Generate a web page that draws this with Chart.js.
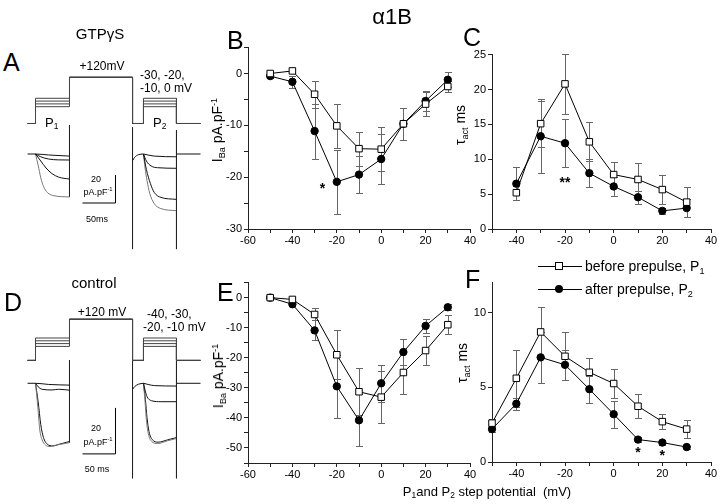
<!DOCTYPE html>
<html>
<head>
<meta charset="utf-8">
<script src="https://cdn.jsdelivr.net/npm/chart.js@4.4.0/dist/chart.umd.min.js"></script>
<style>
body { margin: 0; background: #fff; }
#fig { position: relative; width: 720px; height: 504px; overflow: hidden; font-family: "Liberation Sans", Arial, sans-serif; color: #000; }
canvas { position: absolute; }
.t { position: absolute; white-space: nowrap; line-height: 1; }
.c { transform: translate(-50%, -50%); }
.m { transform: translateY(-50%); }
.r { transform: translate(-50%, -50%) rotate(-90deg); font-size: 14px; }
.L { font-size: 25px; }
.s9 { font-size: 9px; }
.s12 { font-size: 12px; }
sub { font-size: 0.65em; vertical-align: -0.35em; line-height: 0; }
sup { font-size: 0.65em; vertical-align: 0.6em; line-height: 0; }
.ln { position: absolute; height: 1px; background: #000; }
.sq { position: absolute; width: 6px; height: 6px; border: 1px solid #000; background: #fff; }
.dot { position: absolute; width: 8px; height: 8px; border-radius: 50%; background: #000; }
</style>
</head>
<body>
<div id="fig">
  <canvas id="trA"></canvas>
  <canvas id="trD"></canvas>
  <canvas id="chB"></canvas>
  <canvas id="chC"></canvas>
  <canvas id="chE"></canvas>
  <canvas id="chF"></canvas>

  <div class="t c" style="left:392px;top:17px;font-size:22px;">α1B</div>

  <div class="t m L" style="left:3px;top:62px;">A</div>
  <div class="t m L" style="left:227px;top:40px;">B</div>
  <div class="t m L" style="left:463px;top:37px;">C</div>
  <div class="t m L" style="left:4px;top:302px;">D</div>
  <div class="t m L" style="left:217px;top:292px;">E</div>
  <div class="t m L" style="left:465px;top:279px;">F</div>

  <div class="t c" style="left:100px;top:33px;font-size:15px;">GTPγS</div>
  <div class="t c s12" style="left:102px;top:66px;">+120mV</div>
  <div class="t m s12" style="left:140px;top:75px;">-30, -20,</div>
  <div class="t m s12" style="left:140px;top:88px;">-10, 0 mV</div>
  <div class="t m" style="left:45px;top:122px;font-size:13px;">P<sub>1</sub></div>
  <div class="t m" style="left:153px;top:122px;font-size:13px;">P<sub>2</sub></div>
  <div class="t c s9" style="left:96px;top:179px;">20</div>
  <div class="t c s9" style="left:98px;top:192px;">pA.pF<sup>-1</sup></div>
  <div class="t c s9" style="left:97px;top:219px;">50ms</div>

  <div class="t c" style="left:94px;top:282px;font-size:15px;">control</div>
  <div class="t c s12" style="left:102px;top:312px;">+120 mV</div>
  <div class="t m s12" style="left:147px;top:314px;">-40, -30,</div>
  <div class="t m s12" style="left:143px;top:327px;">-20, -10 mV</div>
  <div class="t c s9" style="left:96px;top:428px;">20</div>
  <div class="t c s9" style="left:98px;top:442px;">pA.pF<sup>-1</sup></div>
  <div class="t c s9" style="left:97px;top:469px;">50 ms</div>

  <div class="t r" style="left:217px;top:130px;">I<sub>Ba</sub> pA.pF<sup>-1</sup></div>
  <div class="t r" style="left:218px;top:376px;">I<sub>Ba</sub> pA.pF<sup>-1</sup></div>
  <div class="t r" style="left:460px;top:125px;">τ<sub>act</sub> ms</div>
  <div class="t r" style="left:462px;top:363px;">τ<sub>act</sub> ms</div>

  <div class="t c" style="left:487px;top:491px;font-size:13px;">P<sub>1</sub>and P<sub>2</sub> step potential&nbsp; (mV)</div>

  <div class="ln" style="left:538px;top:266px;width:44px;"></div>
  <div class="sq" style="left:555px;top:262px;"></div>
  <div class="t m" style="left:585px;top:266px;font-size:14px;">before prepulse, P<sub>1</sub></div>
  <div class="ln" style="left:538px;top:289px;width:44px;"></div>
  <div class="dot" style="left:555px;top:285px;"></div>
  <div class="t m" style="left:585px;top:289px;font-size:14px;">after prepulse, P<sub>2</sub></div>
</div>

<script>
// step potentials (mV)
const volts = [-50, -40, -30, -20, -10, 0, 10, 20, 30];
const voltsC = [-40, -30, -20, -10, 0, 10, 20, 30];

// B: GTPgS current density (pA/pF)
const gtpIP1 = [0, 0.5, -4, -10.1, -14.5, -14.6, -9.7, -5.9, -2.5];
const gtpIP1Err = [0.3, 0.3, 2.6, 4.3, 3.3, 4.2, 3.1, 2.3, 1];
const gtpIP2 = [-0.5, -1.6, -11.1, -20.9, -19.5, -16.5, -9.7, -5.3, -1.2];
const gtpIP2Err = [0.3, 1.1, 5.3, 6.2, 3.5, 4.9, 3.1, 2, 1.4];

// C: GTPgS activation tau (ms)
const gtpTauP1 = [5.2, 15.1, 20.8, 12.5, 7.8, 7.1, 5.65, 3.85];
const gtpTauP1Err = [1, 3.3, 4.3, 2.8, 1.8, 2.4, 2.1, 2.1];
const gtpTauP2 = [6.5, 13.3, 12.3, 8.0, 6.1, 4.55, 2.6, 3.0];
const gtpTauP2Err = [2.4, 5.3, 3.4, 2.0, 1.4, 0.9, 0.4, 1.3];

// E: control current density (pA/pF)
const ctlIP1 = [0, -0.6, -5.6, -19.0, -31.3, -33.1, -24.9, -17.6, -9.0];
const ctlIP1Err = [0.3, 0.5, 2, 8.1, 7.8, 8.6, 7.1, 4.9, 3.1];
const ctlIP2 = [0, -2.2, -10.9, -29.5, -40.8, -28.5, -18.1, -9.4, -3.2];
const ctlIP2Err = [0.3, 0.5, 3.3, 10.4, 8.7, 6.1, 4.3, 2.4, 1];

// F: control activation tau (ms)
const ctlTauP1 = [2.6, 5.6, 8.7, 7.07, 6.0, 5.25, 3.73, 2.7, 2.2];
const ctlTauP1Err = [0.3, 1.9, 1.7, 1.6, 0.95, 1.0, 0.8, 0.5, 0.6];
const ctlTauP2 = [2.2, 3.9, 7.0, 6.5, 4.87, 3.2, 1.5, 1.3, 1.0];
const ctlTauP2Err = [0.2, 0.4, 1.7, 1.0, 0.9, 0.9, 0.15, 0.15, 0.1];

// significance marks [x, y, text]
const starsB = [[-26.5, -21.7, '*']];
const starsC = [[-20, 7.0, '**']];
const starsE = [];
const starsF = [[10, 0.8, '*'], [20, 0.6, '*']];

// voltage protocol (ms, schematic mV)
const protoT = [-12, 0, 51.5, 147, 163.6, 213.6, 250];
const holdV = -90;
const gtpSteps = [-30, -20, -10, 0];
const ctlSteps = [-40, -30, -20, -10];
const gtpPreDraw = 75;
const ctlPreDraw = 57;

// GTPgS traces [ms, pA/pF]
const aP1a = [[-12, 0], [0, 0], [20, -0.7], [51.5, -1.5]];
const aP1b = [[0, 0], [8, -2], [20, -3.6], [35, -4.2], [51.5, -4.3]];
const aP1c = [[0, 0], [8, -5], [16, -10], [25, -14], [35, -16.5], [51.5, -17.9]];
const aP1d = [[0, 0], [4, -8], [8, -17], [12, -23], [18, -27.5], [28, -29.8], [51.5, -30.7]];
const aTails = [[51.5, 20.7, -30.7], [147, 19, -67.9], [213.6, 17, -67.9]];
const aGap = [[147.5, -4.5], [150, -2.5], [156, -0.5], [163.6, 0]];
const aP2a = [[163.6, 0], [180, -1.5], [213.6, -2]];
const aP2b = [[163.6, 0], [168, -5], [175, -8.5], [185, -9.8], [213.6, -10.2]];
const aP2c = [[163.6, 0], [168, -11], [174, -21], [180, -27.5], [190, -31], [213.6, -32.4]];
const aP2d = [[163.6, 0], [166, -10], [169, -19], [173, -28], [180, -35.5], [190, -39], [213.6, -40.5]];
const aEnd = [[213.6, 0], [250, 0]];
const aScale = [[71.2, -35], [121.2, -35], [121.2, -15]];

// control traces [ms, pA/pF]
const dP1a = [[-12, 0], [0, 0], [20, -0.5], [51.5, -0.8]];
const dP1b = [[0, 0], [4, -1.5], [10, -2.6], [25, -2.9], [35, -2.6], [51.5, -3]];
const dP1c = [[0, 0], [3.5, -10.2], [6.5, -20.3], [10, -24.6], [15, -26.8], [22, -27.5], [33, -26.8], [51.5, -25.8]];
const dP1d = [[0, 0], [4, -8], [8, -18], [12, -23.5], [18, -26.5], [26, -27.2], [36, -26.5], [51.5, -25.3]];
const dTails = [[51.5, 10.1, -25.8], [147, 10, -41.3], [213.6, 10, -41.3]];
const dGap = [[147.5, -2.5], [150, -1.5], [156, -0.4], [163.6, 0]];
const dP2a = [[163.6, 0], [180, -1], [213.6, -1.2]];
const dP2b = [[163.6, 0], [166, -3], [169, -5.8], [176, -7.6], [190, -8], [213.6, -8]];
const dP2c = [[163.6, 0], [166, -8], [168, -16], [171, -22], [176, -25.3], [185, -26.2], [200, -25], [213.6, -24]];
const dP2d = [[163.6, 0], [166.5, -7], [169, -15], [172, -21], [177, -24.5], [186, -25.6], [200, -24.6], [213.6, -23.6]];
const dEnd = [[213.6, 0], [250, 0]];
const dScale = [[71.2, -30.7], [121.2, -30.7], [121.2, -10.7]];

const FONT = '"Liberation Sans", Arial, sans-serif';

const errorBars = {
  id: 'errorBars',
  beforeDatasetsDraw(chart) {
    const { ctx, scales: { x, y } } = chart;
    ctx.save();
    ctx.strokeStyle = '#666';
    ctx.lineWidth = 1;
    chart.data.datasets.forEach(ds => {
      const errs = ds.errList;
      if (!errs) return;
      ds.data.forEach((p, i) => {
        const e = errs[i];
        const px = Math.round(x.getPixelForValue(p.x)) + 0.5;
        const top = Math.round(y.getPixelForValue(p.y + e)) + 0.5;
        const bot = Math.round(y.getPixelForValue(p.y - e)) + 0.5;
        ctx.beginPath();
        ctx.moveTo(px, top); ctx.lineTo(px, bot);
        ctx.moveTo(px - 3.5, top); ctx.lineTo(px + 3.5, top);
        ctx.moveTo(px - 3.5, bot); ctx.lineTo(px + 3.5, bot);
        ctx.stroke();
      });
    });
    ctx.restore();
  }
};

const starMarks = {
  id: 'starMarks',
  afterDatasetsDraw(chart, args, opts) {
    const { ctx, scales: { x, y } } = chart;
    ctx.save();
    ctx.fillStyle = '#000';
    ctx.font = 'bold 14px ' + FONT;
    ctx.textAlign = 'center';
    ctx.textBaseline = 'middle';
    (opts.items || []).forEach(([sx, sy, s]) => {
      ctx.fillText(s, x.getPixelForValue(sx), y.getPixelForValue(sy) + 3);
    });
    ctx.restore();
  }
};

function pts(xs, ys) {
  return xs.map((v, i) => ({ x: v, y: ys[i] }));
}

function series(xs, ys, errs, open) {
  return {
    data: pts(xs, ys),
    errList: errs,
    borderColor: '#000',
    borderWidth: 1,
    pointStyle: open ? 'rect' : 'circle',
    pointRadius: open ? 4.6 : 3.7,
    pointBackgroundColor: open ? '#fff' : '#000',
    pointBorderColor: '#000',
    pointBorderWidth: 1,
    showLine: true,
    clip: false
  };
}

// area = chart area edges in page pixels
function ivChart(id, area, xr, yr, stars, sets) {
  const cv = document.getElementById(id);
  const yw = 40, xh = 22, padT = 8, padR = 10;
  cv.width = area.r - area.l + yw + padR;
  cv.height = area.b - area.t + padT + xh;
  cv.style.left = (area.l - yw) + 'px';
  cv.style.top = (area.t - padT) + 'px';
  return new Chart(cv, {
    type: 'scatter',
    data: { datasets: sets },
    options: {
      responsive: false,
      animation: false,
      devicePixelRatio: 1,
      layout: { autoPadding: false, padding: { top: padT, right: padR, left: 0, bottom: 0 } },
      plugins: { legend: { display: false }, tooltip: { enabled: false }, starMarks: { items: stars } },
      scales: {
        x: {
          type: 'linear', min: xr[0], max: xr[1],
          afterFit: s => { s.height = xh; },
          border: { display: true, color: '#222', width: 1 },
          grid: { drawOnChartArea: false, drawTicks: true, tickLength: 4, color: '#222' },
          ticks: { stepSize: 10, autoSkip: false, maxRotation: 0, padding: 1, color: '#000', font: { family: FONT, size: 11 },
            callback: v => (v % 20 === 0 ? v : '') }
        },
        y: {
          type: 'linear', min: yr[0], max: yr[1],
          afterFit: s => { s.width = yw; },
          border: { display: true, color: '#222', width: 1 },
          grid: { drawOnChartArea: false, drawTicks: true, tickLength: 4, color: '#222' },
          ticks: { stepSize: yr[2], autoSkip: false, includeBounds: false, padding: 2, color: '#000', font: { family: FONT, size: 11 },
            callback: v => (Math.abs(v % yr[3]) < 1e-6 ? v : '') }
        }
      }
    },
    plugins: [errorBars, starMarks]
  });
}

ivChart('chB', { l: 248, r: 470, t: 47, b: 229 }, [-60, 40], [-30, 5, 5, 10], starsB, [
  series(volts, gtpIP1, gtpIP1Err, true),
  series(volts, gtpIP2, gtpIP2Err, false)
]);
ivChart('chC', { l: 492, r: 711, t: 54, b: 229 }, [-50, 40], [0, 25, 5, 5], starsC, [
  series(voltsC, gtpTauP1, gtpTauP1Err, true),
  series(voltsC, gtpTauP2, gtpTauP2Err, false)
]);
ivChart('chE', { l: 248, r: 470, t: 282, b: 463 }, [-60, 40], [-55, 5, 5, 10], starsE, [
  series(volts, ctlIP1, ctlIP1Err, true),
  series(volts, ctlIP2, ctlIP2Err, false)
]);
ivChart('chF', { l: 492, r: 711, t: 282, b: 462 }, [-50, 40], [0, 12, 5, 5], starsF, [
  series(volts, ctlTauP1, ctlTauP1Err, true),
  series(volts, ctlTauP2, ctlTauP2Err, false)
]);

// trace panels: time axis 0.66 px/ms, hidden axes
function line(arr, color, axis, smooth) {
  return {
    data: arr.map(([x, y]) => ({ x, y })),
    yAxisID: axis,
    borderColor: color,
    borderWidth: 1,
    pointRadius: 0,
    showLine: true,
    cubicInterpolationMode: smooth ? 'monotone' : 'default',
    tension: 0,
    clip: false
  };
}

function protocol(steps, pre) {
  const [t0, t1, t2, t3, t4, t5, t6] = protoT;
  return steps.map(L => line([[t0, holdV], [t1, holdV], [t1, L], [t2, L], [t2, pre], [t3, pre], [t3, holdV],
    [t4, holdV], [t4, L], [t5, L], [t5, holdV], [t6, holdV]], '#444', 'v', false));
}

function traceChart(id, box, iRange, vRange, sets) {
  const cv = document.getElementById(id);
  cv.width = box.w; cv.height = box.h;
  cv.style.left = box.l + 'px';
  cv.style.top = box.t + 'px';
  const tMin = (box.l - 35.5) / 0.66;
  new Chart(cv, {
    type: 'scatter',
    data: { datasets: sets },
    options: {
      responsive: false,
      animation: false,
      devicePixelRatio: 1,
      layout: { autoPadding: false, padding: 0 },
      plugins: { legend: { display: false }, tooltip: { enabled: false } },
      scales: {
        x: { type: 'linear', display: false, min: tMin, max: tMin + box.w / 0.66 },
        y: { type: 'linear', display: false, min: iRange[0], max: iRange[1] },
        v: { type: 'linear', display: false, min: vRange[0], max: vRange[1] }
      }
    }
  });
}

function tails(arr) {
  return arr.map(([t, a, b]) => line([[t, a], [t, b]], '#222', 'y', false));
}

traceChart('trA', { l: 22, t: 20, w: 190, h: 240 }, [-75.71, 95.71], [-577.5, 279.6], [
  ...protocol(gtpSteps, gtpPreDraw),
  line(aP1a, '#111', 'y', true), line(aP1b, '#111', 'y', true),
  line(aP1c, '#111', 'y', true), line(aP1d, '#777', 'y', true),
  ...tails(aTails),
  line(aGap, '#111', 'y', true),
  line(aP2a, '#111', 'y', true), line(aP2b, '#111', 'y', true),
  line(aP2c, '#111', 'y', true), line(aP2d, '#777', 'y', true),
  line(aEnd, '#111', 'y', false),
  line(aScale, '#000', 'y', false)
]);

traceChart('trD', { l: 22, t: 265, w: 190, h: 230 }, [-48.57, 51.43], [-570.7, 250.7], [
  ...protocol(ctlSteps, ctlPreDraw),
  line(dP1a, '#111', 'y', true), line(dP1b, '#111', 'y', true),
  line(dP1c, '#777', 'y', true), line(dP1d, '#111', 'y', true),
  ...tails(dTails),
  line(dGap, '#111', 'y', true),
  line(dP2a, '#111', 'y', true), line(dP2b, '#111', 'y', true),
  line(dP2c, '#777', 'y', true), line(dP2d, '#111', 'y', true),
  line(dEnd, '#111', 'y', false),
  line(dScale, '#000', 'y', false)
]);
</script>
</body>
</html>
